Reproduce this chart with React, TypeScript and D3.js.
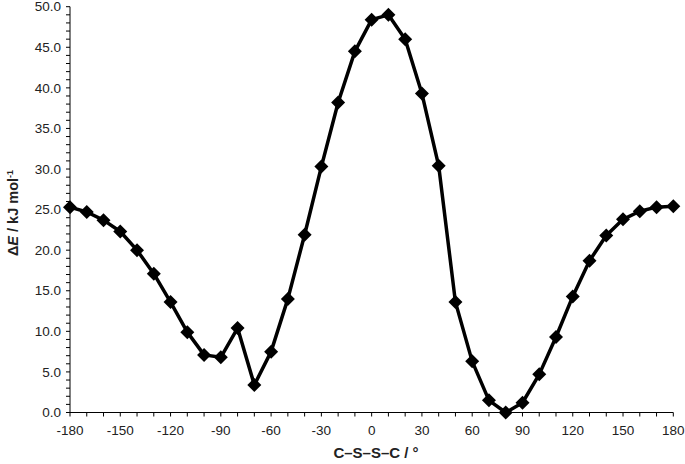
import React from "react";
import * as d3 from "d3";

const angles = [-180,-170,-160,-150,-140,-130,-120,-110,-100,-90,-80,-70,-60,-50,-40,-30,-20,-10,0,10,20,30,40,50,60,70,80,90,100,110,120,130,140,150,160,170,180];
const energies = [25.3,24.7,23.7,22.3,20.0,17.1,13.6,9.9,7.1,6.8,10.4,3.4,7.5,14.0,21.9,30.3,38.2,44.5,48.4,49.0,46.0,39.3,30.4,13.6,6.3,1.5,0.0,1.2,4.7,9.3,14.3,18.7,21.8,23.8,24.8,25.3,25.4];
const xTicks = [-180,-150,-120,-90,-60,-30,0,30,60,90,120,150,180];
const yTicks = [0,5,10,15,20,25,30,35,40,45,50];

const W = 685, H = 464;
const L = 70, R = 673.3, T = 6.7, B = 412.5;

export default function App() {
  const x = d3.scaleLinear().domain([-180, 180]).range([L, R]);
  const y = d3.scaleLinear().domain([0, 50]).range([B, T]);
  const line = d3.line<number>().x((_, i) => x(angles[i])).y((d) => y(d));
  const minorX = d3.range(-180, 181, 10);
  const minorY = d3.range(0, 50.01, 1);
  const font = "Liberation Sans, Arial, sans-serif";
  const s = 7;
  return (
    <svg width={W} height={H} style={{ position: "absolute", left: 0, top: 0 }} fontFamily={font}>
      <rect width={W} height={H} fill="#fff" />
      <line x1={L} x2={L} y1={T} y2={B} stroke="#000" strokeWidth={1} />
      <line x1={L} x2={R} y1={B} y2={B} stroke="#000" strokeWidth={1} />
      {minorY.map((v) => (
        <line key={"my" + v} x1={L - 4} x2={L} y1={y(v)} y2={y(v)} stroke="#000" strokeWidth={1} />
      ))}
      {minorX.map((v) => (
        <line key={"mx" + v} x1={x(v)} x2={x(v)} y1={B} y2={B + 4} stroke="#000" strokeWidth={1} />
      ))}
      {yTicks.map((v) => (
        <text key={"yt" + v} x={L - 9} y={y(v)} dy="0.35em" textAnchor="end" fontSize={13.5} fill="#222">
          {v.toFixed(1)}
        </text>
      ))}
      {xTicks.map((v) => (
        <text key={"xt" + v} x={x(v)} y={435} textAnchor="middle" fontSize={13.5} fill="#222">
          {v}
        </text>
      ))}
      <text x={376} y={458} textAnchor="middle" fontSize={15} fontWeight="bold" fill="#222">
        C–S–S–C / °
      </text>
      <text transform={`translate(18,213) rotate(-90)`} textAnchor="middle" fontSize={14.5} fontWeight="bold" fill="#222">
        Δ<tspan fontStyle="italic">E</tspan> / kJ mol<tspan dy="-5" fontSize={9}>-1</tspan>
      </text>
      <path d={line(energies) || ""} fill="none" stroke="#000" strokeWidth={3.5} strokeLinejoin="round" />
      {energies.map((v, i) => {
        const cx = x(angles[i]), cy = y(v);
        return (
          <path key={"m" + i} d={`M${cx},${cy - s}L${cx + s},${cy}L${cx},${cy + s}L${cx - s},${cy}Z`} fill="#000" />
        );
      })}
    </svg>
  );
}
